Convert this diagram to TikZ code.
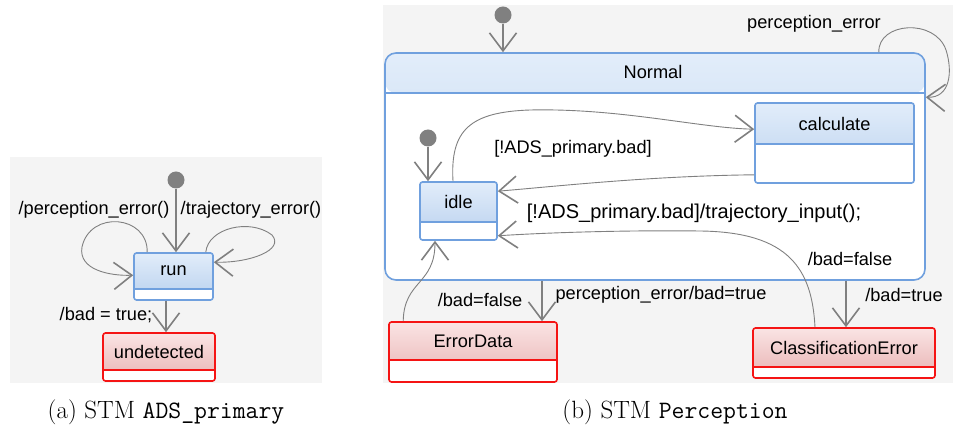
\documentclass[tikz,border=0pt]{standalone}
\usepackage{fontspec}
\newfontfamily\umlfont{Liberation Sans}
\usetikzlibrary{arrows.meta,fit}

\definecolor{bgray}{RGB}{244,244,244}
\definecolor{bline}{RGB}{112,160,222}
\definecolor{btop}{RGB}{226,237,250}
\definecolor{bbot}{RGB}{184,208,238}
\definecolor{rline}{RGB}{245,20,20}
\definecolor{rtop}{RGB}{250,228,228}
\definecolor{rbot}{RGB}{232,178,178}
\definecolor{tgray}{RGB}{128,128,128}

\tikzset{
  hdr/.store in=\sthdr, hdr=36pt,
  stline/.store in=\stline, sttop/.store in=\sttop, stbot/.store in=\stbot,
  state/.style={fill=white, draw=\stline, line width=1.6pt, rounded corners=2.5pt, inner sep=0pt,
    path picture={
      \shade[top color=\sttop, bottom color=\stbot] (path picture bounding box.north west)
        rectangle ([yshift=-\sthdr]path picture bounding box.north east);
      \draw[\stline, line width=1.6pt] ([yshift=-\sthdr]path picture bounding box.north west)
        -- ([yshift=-\sthdr]path picture bounding box.north east);
    }},
  bluestate/.style={stline=bline, sttop=btop, stbot=bbot, state},
  redstate/.style={stline=rline, sttop=rtop, stbot=rbot, state},
  init/.style={circle, fill=tgray, minimum size=17pt, inner sep=0pt},
  txt/.style={font=\umlfont\fontsize{18.2}{20}\selectfont, inner sep=0pt},
  bigtxt/.style={font=\umlfont\fontsize{20}{22}\selectfont, inner sep=0pt},
  captxt/.style={font=\fontsize{25}{29}\selectfont, inner sep=0pt},
  tr/.style={draw=tgray, line width=1.3pt, -{Straight Barb[length=18pt,width=27pt,line width=1.6pt]}},
  crv/.style={tr, line width=0.9pt}
}

\begin{document}
\begin{tikzpicture}[x=1pt,y=-1pt]
  \useasboundingbox (0,0) rectangle (953,427);
  \fill[bgray] (10,157) rectangle (322,383);
  \fill[bgray] (383,5) rectangle (953,383);

  % (a) ADS_primary
  \node [init] (ia) at (176,180) {};
  \node [bluestate, hdr=36pt, fit={(134,253)(213,300)}] (run) {};
  \node [txt] (run-t) at (173.5,271) {run};
  \node [redstate, hdr=37pt, fit={(103,333)(215,381)}] (undet) {};
  \node [txt] (undet-t) at (159,351.5) {undetected};

  \node [txt] (perr) at (94,210) {/perception\_error()};
  \node [txt] (terr) at (251,210) {/trajectory\_error()};
  \node [txt] (badt) at (106,315) {/bad = true;};

  \draw [crv] ([xshift=14pt]run.north west) .. controls (148,215) and (90,210) .. (82,247)
    .. controls (78,270) and (110,276) .. ([yshift=-23pt]run.north west);
  \draw [crv] ([xshift=-8pt]run.north east) .. controls (208,228) and (250,218) .. (272,235)
    .. controls (285,250) and (250,263) .. ([yshift=-10pt]run.north east);
  \draw [tr] ([xshift=-7.5pt]run.south) -- ([xshift=-7.5pt]run.south |- undet.north);

  % (b) Perception
  \node [init] (ib) at (503,15) {};
  \node [bluestate, hdr=40pt, rounded corners=11pt, fit={(385,53)(925,280)}] (normal) {};
  \node [txt] (normal-t) at (653,72) {Normal};
  \node [init] (ic) at (428,138) {};
  \node [bluestate, hdr=40pt, fit={(420,182)(497,240)}] (idle) {};
  \node [txt] (idle-t) at (458.5,202) {idle};
  \node [bluestate, hdr=41pt, fit={(755,103)(914,183)}] (calc) {};
  \node [txt] (calc-t) at (834.5,123.5) {calculate};
  \node [redstate, hdr=38pt, fit={(389,322)(557,382)}] (errdata) {};
  \node [txt] (errdata-t) at (473,341) {ErrorData};
  \node [redstate, hdr=39pt, fit={(753,328)(935,378)}] (clserr) {};
  \node [txt] (clserr-t) at (844,347.5) {ClassificationError};

  \node [txt] (perr2) at (814,24) {perception\_error};
  \node [txt] (guard) at (573,149) {[!ADS\_primary.bad]};
  \node [bigtxt] (guardt) at (694,213) {[!ADS\_primary.bad]/trajectory\_input();};
  \node [txt] (badf1) at (850,259) {/bad=false};
  \node [txt] (badf2) at (480,300) {/bad=false};
  \node [txt] (perrb) at (661,295) {perception\_error/bad=true};
  \node [txt] (badt2) at (904,295) {/bad=true};

  \foreach \from/\to in {ia/run,ib/normal,ic/idle}
    \draw [tr] (\from) -- (\from |- \to.north);

  \draw [crv] ([xshift=-47pt]normal.north east) .. controls (878,22) and (935,18) .. (946,50)
    .. controls (953,72) and (950,98) .. ([yshift=-45pt]normal.north east);
  \draw [crv] ([xshift=-5.5pt]idle.north) .. controls (450,130) and (470,112) .. (530,110)
    .. controls (620,108) and (700,128) .. ([yshift=-27pt]calc.north west);
  \draw [crv] ([yshift=9pt]calc.south west) .. controls (650,176) and (560,186) .. ([yshift=-10pt]idle.north east);
  \draw [crv] ([xshift=-29pt]clserr.north) .. controls (812,270) and (790,232) .. (700,231)
    .. controls (620,230) and (540,233) .. ([yshift=5pt]idle.south east);
  \draw [crv] ([xshift=15pt]errdata.north west) .. controls (404,280) and (435,285) .. ([xshift=-23.5pt]idle.south);
  \draw [tr] ([xshift=69pt]errdata.north |- normal.south) -- ([xshift=69pt]errdata.north);
  \draw [tr] ([xshift=2pt]clserr.north |- normal.south) -- ([xshift=2pt]clserr.north);

  \node [captxt] (cap-a) at (166,412) {(a) STM \texttt{ADS\_primary}};
  \node [captxt] (cap-b) at (675,412) {(b) STM \texttt{Perception}};
\end{tikzpicture}
\end{document}
